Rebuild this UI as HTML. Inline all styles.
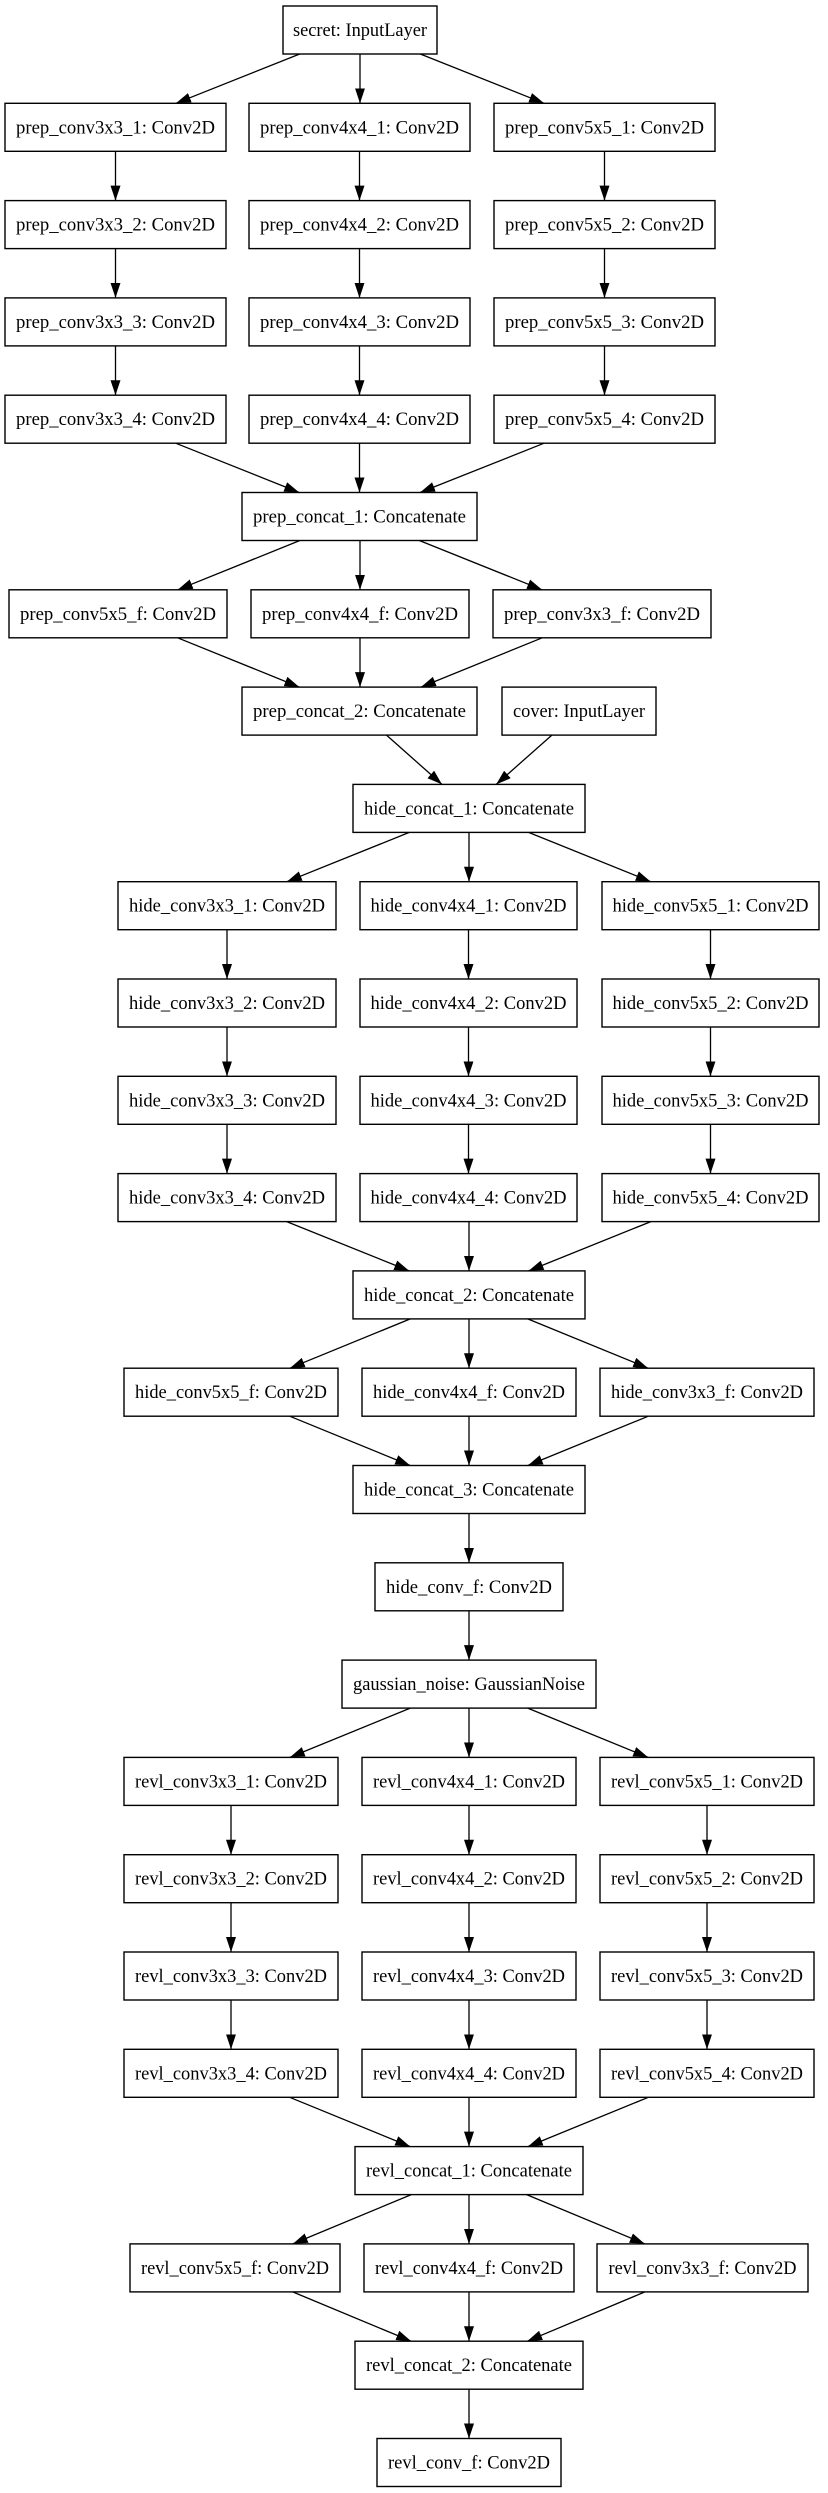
<!DOCTYPE html>
<html><head><meta charset="utf-8"><style>
html,body{margin:0;padding:0;background:#fff;}
svg{display:block;}
text{font-family:"Liberation Serif",serif;font-size:19px;fill:#000;text-anchor:middle;}
rect{fill:#fff;stroke:#000;stroke-width:1.4;}
line{stroke:#000;stroke-width:1.3;}
</style></head><body>
<svg width="828" height="2493" viewBox="0 0 828 2493" xmlns="http://www.w3.org/2000/svg">
<defs><marker id="a" markerUnits="userSpaceOnUse" markerWidth="15" markerHeight="10" viewBox="0 0 15 10" refX="15" refY="5" orient="auto" preserveAspectRatio="none"><path d="M0,0 L15,5 L0,10 z" fill="#000"/></marker></defs>
<g marker-end="url(#a)">
<line x1="299.7" y1="54" x2="175.9" y2="103.3"/><line x1="360" y1="54" x2="360" y2="103.3"/><line x1="420.3" y1="54" x2="544.1" y2="103.3"/>
<line x1="115.5" y1="151.3" x2="115.5" y2="200.6"/><line x1="359.5" y1="151.3" x2="359.5" y2="200.6"/><line x1="604.5" y1="151.3" x2="604.5" y2="200.6"/>
<line x1="115.5" y1="248.6" x2="115.5" y2="297.9"/><line x1="359.5" y1="248.6" x2="359.5" y2="297.9"/><line x1="604.5" y1="248.6" x2="604.5" y2="297.9"/>
<line x1="115.5" y1="345.9" x2="115.5" y2="395.2"/><line x1="359.5" y1="345.9" x2="359.5" y2="395.2"/><line x1="604.5" y1="345.9" x2="604.5" y2="395.2"/>
<line x1="175.7" y1="443.2" x2="299.2" y2="492.5"/><line x1="359.5" y1="443.2" x2="359.5" y2="492.5"/><line x1="544.1" y1="443.2" x2="420" y2="492.5"/>
<line x1="299.9" y1="540.5" x2="177.7" y2="589.8"/><line x1="360" y1="540.5" x2="360" y2="589.8"/><line x1="419.3" y1="540.5" x2="542.1" y2="589.8"/>
<line x1="177.6" y1="637.8" x2="299.4" y2="687.1"/><line x1="360" y1="637.8" x2="360" y2="687.1"/><line x1="542.2" y1="637.8" x2="420.9" y2="687.1"/>
<line x1="386.5" y1="735.1" x2="442" y2="784.4"/><line x1="551.9" y1="735.1" x2="496.2" y2="784.4"/>
<line x1="409.3" y1="832.4" x2="286.8" y2="881.7"/><line x1="469" y1="832.4" x2="469" y2="881.7"/><line x1="528.6" y1="832.4" x2="650.8" y2="881.7"/>
<line x1="227" y1="929.7" x2="227" y2="979"/><line x1="468.5" y1="929.7" x2="468.5" y2="979"/><line x1="710.5" y1="929.7" x2="710.5" y2="979"/>
<line x1="227" y1="1027" x2="227" y2="1076.3"/><line x1="468.5" y1="1027" x2="468.5" y2="1076.3"/><line x1="710.5" y1="1027" x2="710.5" y2="1076.3"/>
<line x1="227" y1="1124.3" x2="227" y2="1173.6"/><line x1="468.5" y1="1124.3" x2="468.5" y2="1173.6"/><line x1="710.5" y1="1124.3" x2="710.5" y2="1173.6"/>
<line x1="286.7" y1="1221.6" x2="409.2" y2="1270.9"/><line x1="469" y1="1221.6" x2="469" y2="1270.9"/><line x1="650.9" y1="1221.6" x2="528.6" y2="1270.9"/>
<line x1="410.3" y1="1318.9" x2="289.8" y2="1368.2"/><line x1="469" y1="1318.9" x2="469" y2="1368.2"/><line x1="527.7" y1="1318.9" x2="648.2" y2="1368.2"/>
<line x1="289.7" y1="1416.2" x2="410.2" y2="1465.5"/><line x1="469" y1="1416.2" x2="469" y2="1465.5"/><line x1="648.3" y1="1416.2" x2="527.8" y2="1465.5"/>
<line x1="469" y1="1513.5" x2="469" y2="1562.8"/>
<line x1="469" y1="1610.8" x2="469" y2="1660.1"/>
<line x1="410.3" y1="1708.1" x2="289.8" y2="1757.4"/><line x1="469" y1="1708.1" x2="469" y2="1757.4"/><line x1="527.7" y1="1708.1" x2="648.2" y2="1757.4"/>
<line x1="231" y1="1805.4" x2="231" y2="1854.7"/><line x1="469" y1="1805.4" x2="469" y2="1854.7"/><line x1="707" y1="1805.4" x2="707" y2="1854.7"/>
<line x1="231" y1="1902.7" x2="231" y2="1952"/><line x1="469" y1="1902.7" x2="469" y2="1952"/><line x1="707" y1="1902.7" x2="707" y2="1952"/>
<line x1="231" y1="2000" x2="231" y2="2049.3"/><line x1="469" y1="2000" x2="469" y2="2049.3"/><line x1="707" y1="2000" x2="707" y2="2049.3"/>
<line x1="289.7" y1="2097.3" x2="410.2" y2="2146.6"/><line x1="469" y1="2097.3" x2="469" y2="2146.6"/><line x1="648.3" y1="2097.3" x2="527.8" y2="2146.6"/>
<line x1="411.3" y1="2194.6" x2="292.8" y2="2243.9"/><line x1="469" y1="2194.6" x2="469" y2="2243.9"/><line x1="526.6" y1="2194.6" x2="644.8" y2="2243.9"/>
<line x1="292.7" y1="2291.9" x2="411.2" y2="2341.2"/><line x1="469" y1="2291.9" x2="469" y2="2341.2"/><line x1="644.9" y1="2291.9" x2="527.2" y2="2341.2"/>
<line x1="469" y1="2389.2" x2="469" y2="2438.5"/>
</g>

<rect x="283" y="6" width="154" height="48"/><text x="360" y="36" textLength="134" lengthAdjust="spacingAndGlyphs">secret: InputLayer</text>

<rect x="5" y="103.3" width="221" height="48"/><text x="115.5" y="133.3" textLength="199" lengthAdjust="spacingAndGlyphs">prep_conv3x3_1: Conv2D</text>
<rect x="249" y="103.3" width="221" height="48"/><text x="359.5" y="133.3" textLength="199" lengthAdjust="spacingAndGlyphs">prep_conv4x4_1: Conv2D</text>
<rect x="494" y="103.3" width="221" height="48"/><text x="604.5" y="133.3" textLength="199" lengthAdjust="spacingAndGlyphs">prep_conv5x5_1: Conv2D</text>
<rect x="5" y="200.6" width="221" height="48"/><text x="115.5" y="230.6" textLength="199" lengthAdjust="spacingAndGlyphs">prep_conv3x3_2: Conv2D</text>
<rect x="249" y="200.6" width="221" height="48"/><text x="359.5" y="230.6" textLength="199" lengthAdjust="spacingAndGlyphs">prep_conv4x4_2: Conv2D</text>
<rect x="494" y="200.6" width="221" height="48"/><text x="604.5" y="230.6" textLength="199" lengthAdjust="spacingAndGlyphs">prep_conv5x5_2: Conv2D</text>
<rect x="5" y="297.9" width="221" height="48"/><text x="115.5" y="327.9" textLength="199" lengthAdjust="spacingAndGlyphs">prep_conv3x3_3: Conv2D</text>
<rect x="249" y="297.9" width="221" height="48"/><text x="359.5" y="327.9" textLength="199" lengthAdjust="spacingAndGlyphs">prep_conv4x4_3: Conv2D</text>
<rect x="494" y="297.9" width="221" height="48"/><text x="604.5" y="327.9" textLength="199" lengthAdjust="spacingAndGlyphs">prep_conv5x5_3: Conv2D</text>
<rect x="5" y="395.2" width="221" height="48"/><text x="115.5" y="425.2" textLength="199" lengthAdjust="spacingAndGlyphs">prep_conv3x3_4: Conv2D</text>
<rect x="249" y="395.2" width="221" height="48"/><text x="359.5" y="425.2" textLength="199" lengthAdjust="spacingAndGlyphs">prep_conv4x4_4: Conv2D</text>
<rect x="494" y="395.2" width="221" height="48"/><text x="604.5" y="425.2" textLength="199" lengthAdjust="spacingAndGlyphs">prep_conv5x5_4: Conv2D</text>

<rect x="242" y="492.5" width="235" height="48"/><text x="359.5" y="522.5" textLength="213" lengthAdjust="spacingAndGlyphs">prep_concat_1: Concatenate</text>

<rect x="9" y="589.8" width="218" height="48"/><text x="118" y="619.8" textLength="196" lengthAdjust="spacingAndGlyphs">prep_conv5x5_f: Conv2D</text>
<rect x="251" y="589.8" width="218" height="48"/><text x="360" y="619.8" textLength="196" lengthAdjust="spacingAndGlyphs">prep_conv4x4_f: Conv2D</text>
<rect x="493" y="589.8" width="218" height="48"/><text x="602" y="619.8" textLength="196" lengthAdjust="spacingAndGlyphs">prep_conv3x3_f: Conv2D</text>

<rect x="242" y="687.1" width="235" height="48"/><text x="359.5" y="717.1" textLength="213" lengthAdjust="spacingAndGlyphs">prep_concat_2: Concatenate</text>
<rect x="502" y="687.1" width="154" height="48"/><text x="579" y="717.1" textLength="132" lengthAdjust="spacingAndGlyphs">cover: InputLayer</text>

<rect x="353" y="784.4" width="232" height="48"/><text x="469" y="814.4" textLength="210" lengthAdjust="spacingAndGlyphs">hide_concat_1: Concatenate</text>

<rect x="118" y="881.7" width="218" height="48"/><text x="227" y="911.7" textLength="196" lengthAdjust="spacingAndGlyphs">hide_conv3x3_1: Conv2D</text>
<rect x="360" y="881.7" width="217" height="48"/><text x="468.5" y="911.7" textLength="196" lengthAdjust="spacingAndGlyphs">hide_conv4x4_1: Conv2D</text>
<rect x="602" y="881.7" width="217" height="48"/><text x="710.5" y="911.7" textLength="196" lengthAdjust="spacingAndGlyphs">hide_conv5x5_1: Conv2D</text>
<rect x="118" y="979" width="218" height="48"/><text x="227" y="1009" textLength="196" lengthAdjust="spacingAndGlyphs">hide_conv3x3_2: Conv2D</text>
<rect x="360" y="979" width="217" height="48"/><text x="468.5" y="1009" textLength="196" lengthAdjust="spacingAndGlyphs">hide_conv4x4_2: Conv2D</text>
<rect x="602" y="979" width="217" height="48"/><text x="710.5" y="1009" textLength="196" lengthAdjust="spacingAndGlyphs">hide_conv5x5_2: Conv2D</text>
<rect x="118" y="1076.3" width="218" height="48"/><text x="227" y="1106.3" textLength="196" lengthAdjust="spacingAndGlyphs">hide_conv3x3_3: Conv2D</text>
<rect x="360" y="1076.3" width="217" height="48"/><text x="468.5" y="1106.3" textLength="196" lengthAdjust="spacingAndGlyphs">hide_conv4x4_3: Conv2D</text>
<rect x="602" y="1076.3" width="217" height="48"/><text x="710.5" y="1106.3" textLength="196" lengthAdjust="spacingAndGlyphs">hide_conv5x5_3: Conv2D</text>
<rect x="118" y="1173.6" width="218" height="48"/><text x="227" y="1203.6" textLength="196" lengthAdjust="spacingAndGlyphs">hide_conv3x3_4: Conv2D</text>
<rect x="360" y="1173.6" width="217" height="48"/><text x="468.5" y="1203.6" textLength="196" lengthAdjust="spacingAndGlyphs">hide_conv4x4_4: Conv2D</text>
<rect x="602" y="1173.6" width="217" height="48"/><text x="710.5" y="1203.6" textLength="196" lengthAdjust="spacingAndGlyphs">hide_conv5x5_4: Conv2D</text>

<rect x="353" y="1270.9" width="232" height="48"/><text x="469" y="1300.9" textLength="210" lengthAdjust="spacingAndGlyphs">hide_concat_2: Concatenate</text>

<rect x="124" y="1368.2" width="214" height="48"/><text x="231" y="1398.2" textLength="192" lengthAdjust="spacingAndGlyphs">hide_conv5x5_f: Conv2D</text>
<rect x="362" y="1368.2" width="214" height="48"/><text x="469" y="1398.2" textLength="192" lengthAdjust="spacingAndGlyphs">hide_conv4x4_f: Conv2D</text>
<rect x="600" y="1368.2" width="214" height="48"/><text x="707" y="1398.2" textLength="192" lengthAdjust="spacingAndGlyphs">hide_conv3x3_f: Conv2D</text>

<rect x="353" y="1465.5" width="232" height="48"/><text x="469" y="1495.5" textLength="210" lengthAdjust="spacingAndGlyphs">hide_concat_3: Concatenate</text>
<rect x="375" y="1562.8" width="188" height="48"/><text x="469" y="1592.8" textLength="166" lengthAdjust="spacingAndGlyphs">hide_conv_f: Conv2D</text>
<rect x="342" y="1660.1" width="254" height="48"/><text x="469" y="1690.1" textLength="232" lengthAdjust="spacingAndGlyphs">gaussian_noise: GaussianNoise</text>

<rect x="124" y="1757.4" width="214" height="48"/><text x="231" y="1787.4" textLength="192" lengthAdjust="spacingAndGlyphs">revl_conv3x3_1: Conv2D</text>
<rect x="362" y="1757.4" width="214" height="48"/><text x="469" y="1787.4" textLength="192" lengthAdjust="spacingAndGlyphs">revl_conv4x4_1: Conv2D</text>
<rect x="600" y="1757.4" width="214" height="48"/><text x="707" y="1787.4" textLength="192" lengthAdjust="spacingAndGlyphs">revl_conv5x5_1: Conv2D</text>
<rect x="124" y="1854.7" width="214" height="48"/><text x="231" y="1884.7" textLength="192" lengthAdjust="spacingAndGlyphs">revl_conv3x3_2: Conv2D</text>
<rect x="362" y="1854.7" width="214" height="48"/><text x="469" y="1884.7" textLength="192" lengthAdjust="spacingAndGlyphs">revl_conv4x4_2: Conv2D</text>
<rect x="600" y="1854.7" width="214" height="48"/><text x="707" y="1884.7" textLength="192" lengthAdjust="spacingAndGlyphs">revl_conv5x5_2: Conv2D</text>
<rect x="124" y="1952" width="214" height="48"/><text x="231" y="1982" textLength="192" lengthAdjust="spacingAndGlyphs">revl_conv3x3_3: Conv2D</text>
<rect x="362" y="1952" width="214" height="48"/><text x="469" y="1982" textLength="192" lengthAdjust="spacingAndGlyphs">revl_conv4x4_3: Conv2D</text>
<rect x="600" y="1952" width="214" height="48"/><text x="707" y="1982" textLength="192" lengthAdjust="spacingAndGlyphs">revl_conv5x5_3: Conv2D</text>
<rect x="124" y="2049.3" width="214" height="48"/><text x="231" y="2079.3" textLength="192" lengthAdjust="spacingAndGlyphs">revl_conv3x3_4: Conv2D</text>
<rect x="362" y="2049.3" width="214" height="48"/><text x="469" y="2079.3" textLength="192" lengthAdjust="spacingAndGlyphs">revl_conv4x4_4: Conv2D</text>
<rect x="600" y="2049.3" width="214" height="48"/><text x="707" y="2079.3" textLength="192" lengthAdjust="spacingAndGlyphs">revl_conv5x5_4: Conv2D</text>

<rect x="355" y="2146.6" width="228" height="48"/><text x="469" y="2176.6" textLength="206" lengthAdjust="spacingAndGlyphs">revl_concat_1: Concatenate</text>

<rect x="130" y="2243.9" width="210" height="48"/><text x="235" y="2273.9" textLength="188" lengthAdjust="spacingAndGlyphs">revl_conv5x5_f: Conv2D</text>
<rect x="364" y="2243.9" width="210" height="48"/><text x="469" y="2273.9" textLength="188" lengthAdjust="spacingAndGlyphs">revl_conv4x4_f: Conv2D</text>
<rect x="597" y="2243.9" width="211" height="48"/><text x="702.5" y="2273.9" textLength="188" lengthAdjust="spacingAndGlyphs">revl_conv3x3_f: Conv2D</text>

<rect x="355" y="2341.2" width="228" height="48"/><text x="469" y="2371.2" textLength="206" lengthAdjust="spacingAndGlyphs">revl_concat_2: Concatenate</text>
<rect x="377" y="2438.5" width="184" height="48"/><text x="469" y="2468.5" textLength="162" lengthAdjust="spacingAndGlyphs">revl_conv_f: Conv2D</text>
</svg>
</body></html>
